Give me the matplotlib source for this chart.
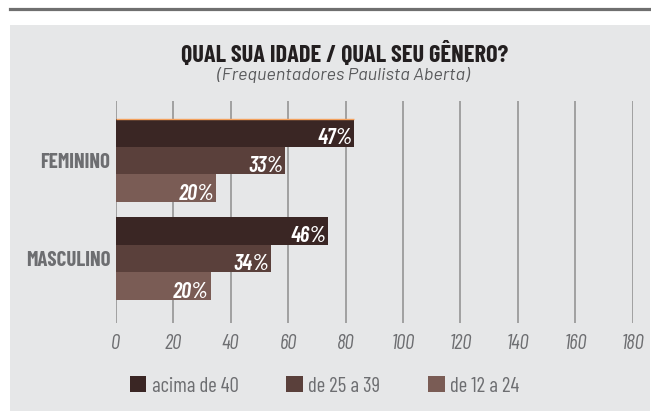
import matplotlib
matplotlib.use("Agg")
import matplotlib.pyplot as plt
import matplotlib.patches as mpatches
from matplotlib import font_manager as fm
import numpy as np

# ── Fonts: pick a condensed sans if one is installed ─────────────────────────
_names = {f.name for f in fm.fontManager.ttflist}
FONT = next((n for n in ["Barlow Condensed", "Fira Sans Extra Condensed",
                         "Fira Sans Condensed", "Roboto Condensed"]
             if n in _names), "DejaVu Sans")
SUBFONT = next((n for n in ["Barlow", "Fira Sans", "Roboto"] if n in _names),
               "DejaVu Sans")
plt.rcParams["font.family"] = FONT

BG = "#E6E7E8"
GRID = "#959595"
TXT = "#6D6E71"
DARK = "#231F20"
COLORS = ["#3A2624", "#5A403B", "#7A5C55"]

# ── Data ─────────────────────────────────────────────────────────────────────
categories = ["FEMININO", "MASCULINO"]
series = ["acima de 40", "de 25 a 39", "de 12 a 24"]
# bar lengths as drawn on the 0-180 axis
acima_40 = [83, 74]
de_25_39 = [59, 54]
de_12_24 = [35, 33]
# printed labels
lab_acima_40 = ["47%", "46%"]
lab_25_39 = ["33%", "34%"]
lab_12_24 = ["20%", "20%"]
xticks = [0, 20, 40, 60, 80, 100, 120, 140, 160, 180]

values = [acima_40, de_25_39, de_12_24]
labels = [lab_acima_40, lab_25_39, lab_12_24]

# ── Figure ───────────────────────────────────────────────────────────────────
W, H = 651, 419
fig = plt.figure(figsize=(W / 100, H / 100), dpi=100, facecolor="white")

# grey panel + top rule
fig.patches.append(mpatches.Rectangle((10 / W, 8 / H), 640 / W, 386 / H,
                                      transform=fig.transFigure,
                                      facecolor=BG, edgecolor="none", zorder=-5))
fig.add_artist(plt.Line2D([10 / W, 1], [1 - 9.5 / H, 1 - 9.5 / H],
                          transform=fig.transFigure, color="#6F6F6F", lw=2.3))

ax = fig.add_axes([115.7 / W, 1 - 322.7 / H, 517.1 / W, 222 / H])
ax.set_facecolor("none")
ax.set_zorder(2)

y = np.arange(len(categories))
h = 0.283
offsets = [-h, 0, h]
for vals, labs, off, col in zip(values, labels, offsets, COLORS):
    bars = ax.barh(y + off, vals, height=h, color=col, zorder=3)
    for b, lab in zip(bars, labs):
        ax.annotate(lab, (b.get_width(), b.get_y() + b.get_height()),
                    xytext=(-1.5, 1.5), textcoords="offset points",
                    ha="right", va="baseline", color="white",
                    fontsize=16, fontweight="semibold", fontstyle="italic",
                    zorder=4)

# thin orange edge on the top bar
ax.hlines(y[0] + offsets[0] - h / 2, 0, acima_40[0], color="#F4A15D",
          lw=1.0, zorder=5)

ax.set_xlim(0, 180)
ax.set_ylim(1.656, -0.609)
ax.set_xticks(xticks)
ax.set_xticklabels([str(t) for t in xticks], fontstyle="italic",
                   fontsize=15, color=TXT)
ax.set_yticks(y)
ax.set_yticklabels(categories, fontweight="bold", fontsize=15, color=TXT)
ax.tick_params(axis="x", length=0, pad=8)
ax.tick_params(axis="y", length=0, pad=4)
ax.grid(axis="x", color=GRID, lw=1.2, zorder=1)
ax.grid(axis="y", visible=False)
for s in ax.spines.values():
    s.set_visible(False)

# ── Titles ───────────────────────────────────────────────────────────────────
fig.text(345 / W, 1 - 54 / H, "QUAL SUA IDADE / QUAL SEU GÊNERO?",
         ha="center", va="center", fontsize=17.5, fontweight="bold", color=DARK)
fig.text(343 / W, 1 - 75 / H, "(Frequentadores Paulista Aberta)",
         ha="center", va="center", fontsize=13, fontstyle="italic",
         family=SUBFONT, color="#58595B")

# ── Legend ───────────────────────────────────────────────────────────────────
handles = [mpatches.Patch(facecolor=c, edgecolor="none", label=s)
           for c, s in zip(COLORS, series)]
leg = fig.legend(handles=handles, loc="center left", ncol=3, frameon=False,
                 bbox_to_anchor=(111 / W, 1 - 386 / H), fontsize=15,
                 handlelength=0.8, handleheight=0.8, handletextpad=0.25,
                 columnspacing=2.3)
for t in leg.get_texts():
    t.set_color(TXT)

fig.savefig("out.png", dpi=100, facecolor="white")
